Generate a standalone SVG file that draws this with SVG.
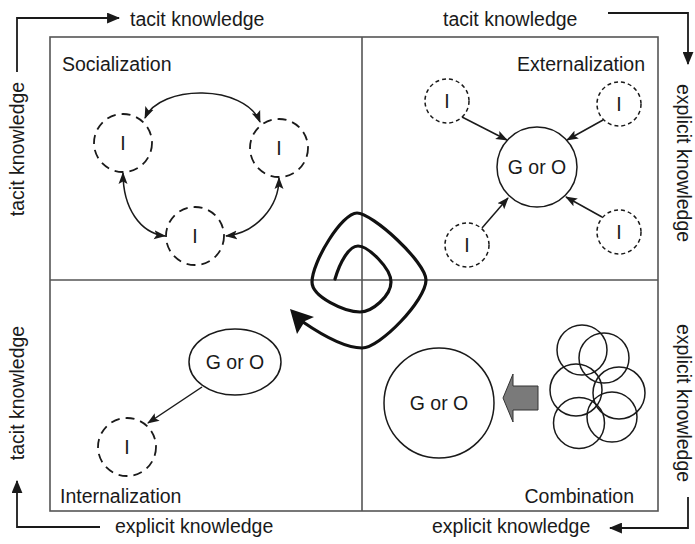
<svg xmlns="http://www.w3.org/2000/svg" width="695" height="544" viewBox="0 0 695 544">
  <style>
    text { font-family: "Liberation Sans", Arial, sans-serif; font-size: 19.5px; fill: #1a1a1a; }
    .mid { text-anchor: middle; }
    .end { text-anchor: end; }
    .frame { fill: none; stroke: #555; stroke-width: 1.6; }
    .ln { fill: none; stroke: #1a1a1a; stroke-width: 1.5; }
    .axis { fill: none; stroke: #1a1a1a; stroke-width: 1.8; }
    .dash { fill: #fff; stroke: #1a1a1a; stroke-width: 1.8; stroke-dasharray: 9 6; }
    .dots { fill: #fff; stroke: #1a1a1a; stroke-width: 1.5; stroke-dasharray: 4 3; }
    .solid { fill: #fff; stroke: #1a1a1a; stroke-width: 1.5; }
    .ring { fill: none; stroke: #1a1a1a; stroke-width: 1.5; }
  </style>
  <defs>
    <marker id="ah" viewBox="0 0 12 10" refX="11" refY="5" markerWidth="12" markerHeight="10" markerUnits="userSpaceOnUse" orient="auto-start-reverse">
      <path d="M0,0.5 L12,5 L0,9.5 L2.5,5 z" fill="#1a1a1a"/>
    </marker>
    <marker id="axh" viewBox="0 0 12 10" refX="11" refY="5" markerWidth="13" markerHeight="11" markerUnits="userSpaceOnUse" orient="auto">
      <path d="M0,0 L12,5 L0,10 z" fill="#1a1a1a"/>
    </marker>
  </defs>

  <!-- quadrant frame -->
  <g id="frame">
    <rect class="frame" x="50" y="37" width="608" height="474"/>
    <line class="frame" x1="50" y1="280" x2="658" y2="280"/>
    <line class="frame" x1="362" y1="37" x2="362" y2="511"/>
  </g>

  <!-- axis labels around the frame -->
  <g id="axes">
    <text x="130" y="26">tacit knowledge</text>
    <text x="443" y="26">tacit knowledge</text>
    <text x="115" y="533">explicit knowledge</text>
    <text x="432" y="533">explicit knowledge</text>
    <text transform="translate(24,149) rotate(-90)" class="mid">tacit knowledge</text>
    <text transform="translate(24,393) rotate(-90)" class="mid">tacit knowledge</text>
    <text transform="translate(677,163) rotate(90)" class="mid">explicit knowledge</text>
    <text transform="translate(677,403) rotate(90)" class="mid">explicit knowledge</text>
  </g>

  <!-- quadrant titles -->
  <g id="titles">
    <text x="62" y="71">Socialization</text>
    <text x="645" y="71" class="end">Externalization</text>
    <text x="60" y="503">Internalization</text>
    <text x="634" y="503" class="end">Combination</text>
  </g>

  <!-- socialization nodes -->
  <g id="soc-i1"><circle class="dash" cx="123" cy="143" r="29"/><text x="123" y="150" class="mid">I</text></g>
  <g id="soc-i2"><circle class="dash" cx="279" cy="148" r="29"/><text x="279" y="155" class="mid">I</text></g>
  <g id="soc-i3"><circle class="dash" cx="195" cy="236" r="29"/><text x="195" y="243" class="mid">I</text></g>

  <!-- externalization nodes -->
  <g id="ext-go"><circle class="solid" cx="537" cy="167" r="40"/><text x="537" y="174" class="mid">G or O</text></g>
  <g id="ext-i1"><circle class="dots" cx="447" cy="101" r="22"/><text x="447" y="108" class="mid">I</text></g>
  <g id="ext-i2"><circle class="dots" cx="619" cy="104" r="22"/><text x="619" y="111" class="mid">I</text></g>
  <g id="ext-i3"><circle class="dots" cx="467" cy="245" r="22"/><text x="467" y="252" class="mid">I</text></g>
  <g id="ext-i4"><circle class="dots" cx="619" cy="232" r="22"/><text x="619" y="239" class="mid">I</text></g>

  <!-- internalization nodes -->
  <g id="int-go"><ellipse class="solid" cx="235" cy="362" rx="46" ry="33"/><text x="235" y="369" class="mid">G or O</text></g>
  <g id="int-i"><circle class="dash" cx="127" cy="447" r="29"/><text x="127" y="454" class="mid">I</text></g>

  <!-- combination nodes -->
  <g id="comb-go"><circle class="solid" cx="439" cy="403" r="55"/><text x="439" y="410" class="mid">G or O</text></g>
  <g id="comb-set">
    <circle class="ring" cx="582" cy="350" r="25"/>
    <circle class="ring" cx="604" cy="358" r="25"/>
    <circle class="ring" cx="576" cy="390" r="26"/>
    <circle class="ring" cx="619" cy="393" r="26"/>
    <circle class="ring" cx="579" cy="423" r="25.5"/>
    <circle class="ring" cx="612" cy="417" r="25"/>
  </g>

  <!-- connectors -->
  <g id="connectors">
    <!-- corner arrows along the axes -->
    <path class="axis" d="M17,72 V18 H119" marker-end="url(#axh)"/>
    <path class="axis" d="M608,13 H688 V64" marker-end="url(#axh)"/>
    <path class="axis" d="M688,497 V528 H610" marker-end="url(#axh)"/>
    <path class="axis" d="M100,527 H17 V481" marker-end="url(#axh)"/>

    <!-- socialization exchanges -->
    <path class="ln" d="M145,118 C160,84 245,84 260,122" marker-start="url(#ah)" marker-end="url(#ah)"/>
    <path class="ln" d="M123,173 C123,208 140,233 165,236" marker-start="url(#ah)" marker-end="url(#ah)"/>
    <path class="ln" d="M279,178 C279,208 255,233 226,236" marker-start="url(#ah)" marker-end="url(#ah)"/>

    <!-- externalization -->
    <line class="ln" x1="462" y1="117" x2="507" y2="140" marker-end="url(#ah)"/>
    <line class="ln" x1="603" y1="120" x2="567" y2="140" marker-end="url(#ah)"/>
    <line class="ln" x1="482" y1="228" x2="508" y2="198" marker-end="url(#ah)"/>
    <line class="ln" x1="602" y1="217" x2="566" y2="197" marker-end="url(#ah)"/>

    <!-- internalization -->
    <line class="ln" x1="202" y1="387" x2="148" y2="423" marker-end="url(#ah)"/>

    <!-- combination block arrow -->
    <path d="M503,398 L513,374 L513,386 L538,386 L538,410 L513,410 L513,422 Z" fill="#7a7a7a" stroke="#333" stroke-width="1"/>

    <!-- knowledge spiral -->
    <path d="M335,279 C340,262 349,246 358,246 C368,246 391,268 391,282 C391,296 372,312 360,312 C345,312 312,297 312,282 C312,262 342,213 357,213 C372,213 426,262 426,280 C426,300 380,348 362,348 C346,348 322,335 303,322" fill="none" stroke="#111" stroke-width="3.2" stroke-linecap="round" stroke-linejoin="round"/>
    <path d="M290,309 L314,317 L305,321 L297,334 Z" fill="#111"/>
  </g>
</svg>
